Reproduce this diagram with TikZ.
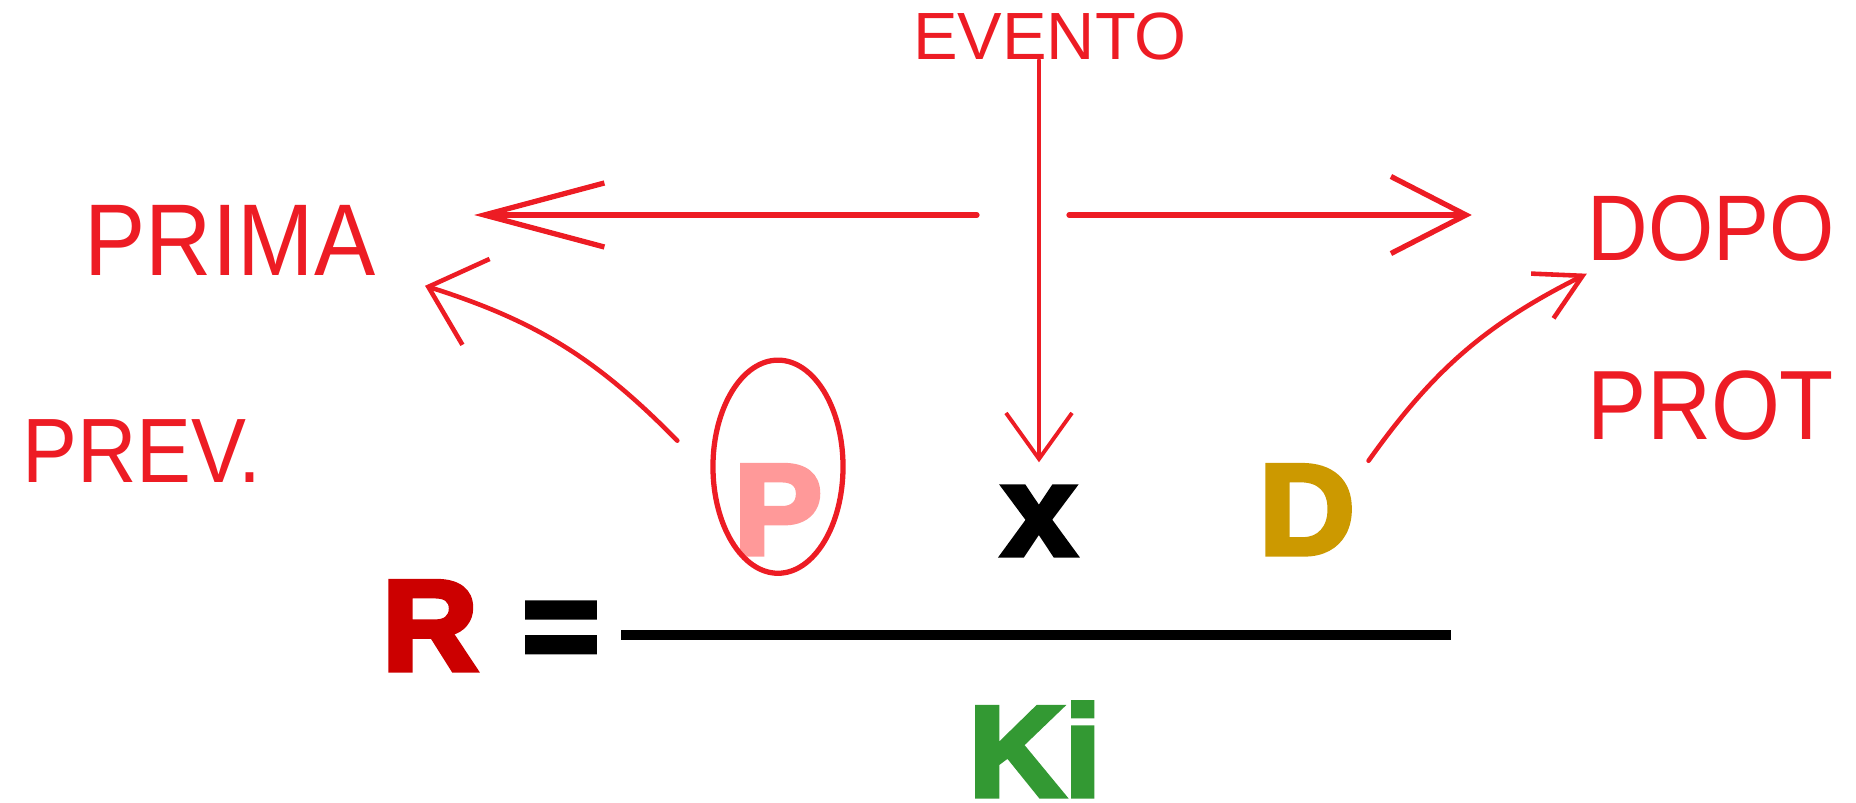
\documentclass[tikz,border=0pt]{standalone}
\usepackage{fontspec}
\setmainfont{Liberation Sans}
\newfontfamily\formulafont{Liberation Sans}[FakeStretch=1.03,FakeBold=4]
\newfontfamily\handfont{Liberation Sans}[FakeStretch=0.9]
\usepackage{xcolor}
\usepackage{tikz}
\usetikzlibrary{arrows.meta,positioning,calc,shapes.geometric}

\definecolor{penred}{HTML}{ED1C24}
\definecolor{rcol}{HTML}{CC0000}
\definecolor{pcol}{HTML}{FF9999}
\definecolor{dcol}{HTML}{CC9900}
\definecolor{kcol}{HTML}{339933}

\begin{document}
\begin{tikzpicture}[
    x=0.01cm, y=-0.01cm,
    pen/.style={draw=penred, line width=1.5pt, line cap=round, line join=round},
    hand/.style={text=penred, inner sep=0pt, font=\handfont\fontsize{#1}{#1}\selectfont},
    big/.style={inner sep=0pt, anchor=base, font=\formulafont\bfseries\fontsize{36.6pt}{40pt}\selectfont}
]
\useasboundingbox (0,0) rectangle (1856,803);

% Formula
\node[big, text=rcol] (rr) at (430,670) {R};
\node[big] (eq) at (561,670) {=};
\node[big, text=pcol] (pp) at (778,554) {P};
\node[big] (xx) at (1039,555) {x};
\node[big, text=dcol] (dd) at (1307,554) {D};
\node[big, text=kcol] (ki) at (1035,796) {Ki};

% Fraction bar
\coordinate (barL) at (621,635);
\coordinate (barR) at (1451,635);
\draw[line width=2.7pt] (barL) -- (barR);

% Handwritten labels
\node[hand=20pt, font=\fontsize{19pt}{19pt}\selectfont] (evento) at (1050,36) {EVENTO};
\node[hand=29pt] (prima) at (230,240) {PRIMA};
\node[hand=26.5pt] (dopo) at (1711,228) {DOPO};
\node[hand=26pt] (prev) at (142,451) {PREV.};
\node[hand=28pt] (prot) at (1711,406) {PROT};

% Ring round P
\node[pen, ellipse, minimum width=1.3cm, minimum height=2.13cm, inner sep=0pt] (ring) at ([yshift=4.3mm]pp.center) {};

% Event line
\coordinate (hub) at (1036,215);
\draw[pen, line width=1.1pt, -{Straight Barb[length=4.6mm,width=6.6mm]}, shorten >=2.4mm] (evento.south -| xx.north) -- (xx.north);

% Before / after
\draw[pen, -{Straight Barb[length=12mm,width=6.4mm]}, shorten <=5.9mm, shorten >=9.8mm] (hub) -- (hub -| prima.east);
\draw[pen, -{Straight Barb[length=7.5mm,width=7.7mm]}, shorten <=3.3mm, shorten >=11.5mm] (hub) -- (hub -| dopo.west);

% P and D
\draw[pen, line width=1.3pt, -{Straight Barb[length=5mm,width=9mm]}] ([shift={(-3.3mm,2.6mm)}]ring.west) to[bend right=14] ([shift={(4.9mm,-1mm)}]prima.south east);
\draw[pen, line width=1.3pt, -{Straight Barb[length=4.5mm,width=5mm]}] ([shift={(1.3mm,0.4mm)}]dd.north east) to[bend left=14] ([yshift=-1.2mm]dopo.south west);

\end{tikzpicture}
\end{document}
